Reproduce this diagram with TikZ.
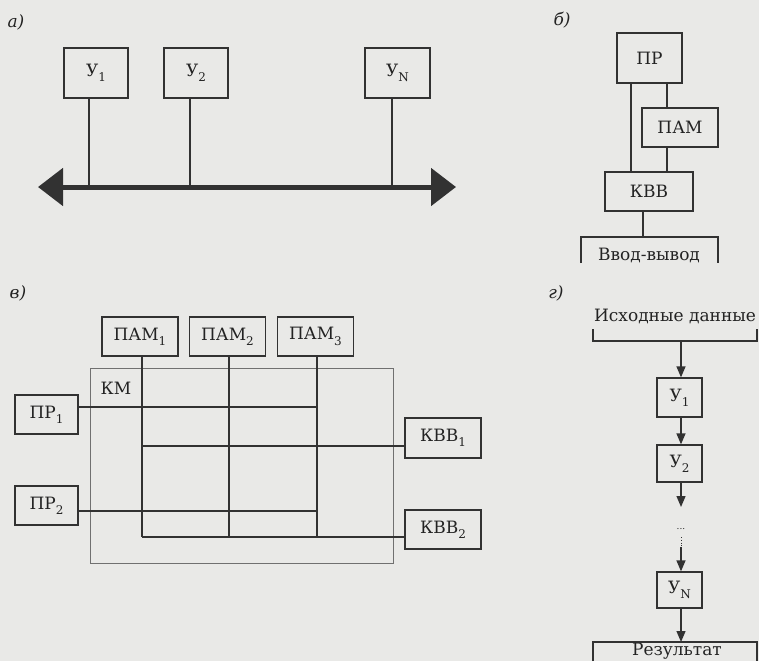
\documentclass[tikz,border=0pt]{standalone}
\usepackage{fontspec}
\setmainfont{DejaVu Serif}
\usetikzlibrary{arrows.meta,calc}
\definecolor{ink}{RGB}{50,50,50}
\definecolor{txt}{RGB}{35,35,35}
\definecolor{paper}{RGB}{233,233,231}
\newcommand\subidx[1]{\raisebox{-0.6ex}{\fontsize{12}{12}\selectfont #1}}
\begin{document}
\begin{tikzpicture}[x=1pt,y=-1pt,
  every node/.style={text=txt,font=\fontsize{17}{20}\selectfont},
  lab/.style={font=\fontsize{17}{20}\selectfont\itshape},
  blk/.style={draw=ink,line width=1.3pt,minimum width=64pt,minimum height=39pt,inner sep=0pt},
  conn/.style={draw=ink,line width=1.3pt},
  kmbox/.style={draw=ink!70,line width=0.9pt},
  bus/.style={draw=ink,line width=5pt,{Triangle[length=25pt,width=37pt]}-{Triangle[length=25pt,width=37pt]}},
  arr/.style={draw=ink,line width=1.3pt,-{Triangle[length=11pt,width=9pt]}}
]
\fill[paper] (0,0) rectangle (759,661);
\useasboundingbox (0,0) rectangle (759,661);

% ---------- a)
\node[lab] (la) at (16,22) {а)};
\node[blk,minimum height=50pt] (u1) at (96,73) {У\subidx{1}};
\node[blk,minimum height=50pt] (u2) at (196,73) {У\subidx{2}};
\node[blk,minimum width=65pt,minimum height=50pt] (un) at (397.5,73) {У\subidx{N}};
\coordinate (busL) at (38,187);
\coordinate (busR) at (456,187);
\draw[conn] ([xshift=-7pt]u1.south) -- ([xshift=-7pt]u1.south |- busL);
\draw[conn] ([xshift=-6pt]u2.south) -- ([xshift=-6pt]u2.south |- busL);
\draw[conn] ([xshift=-5.5pt]un.south) -- ([xshift=-5.5pt]un.south |- busL);
\draw[bus] (busL) -- (busR);

% ---------- b)
\node[lab] (lb) at (562,20) {б)};
\node[blk,minimum width=65pt,minimum height=50pt] (pr) at (649.5,58) {ПР};
\node[blk,minimum width=76pt] (pam) at (680,127.5) {ПАМ};
\node[blk,minimum width=88pt] (kvv) at (649,191.5) {КВВ};
\coordinate (bx1) at (631,0);
\coordinate (bx2) at (667,0);
\coordinate (iot) at (643,237);
\draw[conn] (pr.south -| bx1) -- (kvv.north -| bx1);
\draw[conn] (pr.south -| bx2) -- (pam.north -| bx2);
\draw[conn] (pam.south -| bx2) -- (kvv.north -| bx2);
\draw[conn] (kvv.south -| iot) -- (iot);
\node (io) at (649,255) {Ввод-вывод};
\draw[conn] (581,263) -- (581,237) -- (718,237) -- (718,263);

% ---------- c)
\node[lab] (lc) at (18,293) {в)};
\node[blk,minimum width=76pt] (pam1) at (140,336.5) {ПАМ\subidx{1}};
\node[blk,minimum width=76pt] (pam2) at (227.5,336.5) {ПАМ\subidx{2}};
\node[blk,minimum width=76pt] (pam3) at (315.5,336.5) {ПАМ\subidx{3}};
\draw[kmbox] (90,368) rectangle (393,563);
\node (km) at (116,388) {КМ};
\node[blk,minimum width=63pt] (pr1) at (46.5,414.5) {ПР\subidx{1}};
\node[blk,minimum width=63pt] (pr2) at (46.5,505.5) {ПР\subidx{2}};
\node[blk,minimum width=76pt,minimum height=40pt] (kvv1) at (443,438) {КВВ\subidx{1}};
\node[blk,minimum width=76pt] (kvv2) at (443,529.5) {КВВ\subidx{2}};
\coordinate (gb1) at (142,537);
\coordinate (gb2) at (229,537);
\coordinate (gb3) at (317,537);
\coordinate (h1) at (317,407);
\coordinate (h2) at (142,446);
\coordinate (h3) at (317,511);
\draw[conn] (pam1.south -| gb1) -- (gb1);
\draw[conn] (pam2.south -| gb2) -- (gb2);
\draw[conn] (pam3.south -| gb3) -- (gb3);
\draw[conn] (pr1.east |- h1) -- (h1);
\draw[conn] (h2) -- (kvv1.west |- h2);
\draw[conn] (pr2.east |- h3) -- (h3);
\draw[conn] (gb1) -- (kvv2.west |- gb1);

% ---------- d)
\node[lab] (ld) at (556,293) {г)};
\node (src) at (675,316) {Исходные данные};
\draw[conn] (593,329) -- (593,341) -- (757,341) -- (757,329);
\coordinate (s0) at (681,341);
\node[blk,minimum width=45pt] (g1) at (679.5,397.5) {У\subidx{1}};
\node[blk,minimum width=45pt,minimum height=37pt] (g2) at (679.5,463.5) {У\subidx{2}};
\node[blk,minimum width=45pt,minimum height=36pt] (gn) at (679.5,590) {У\subidx{N}};
\coordinate (d1) at (681,507);
\coordinate (d2) at (681,547);
\coordinate (r0) at (681,642);
\draw[arr] (s0) -- (g1.north -| s0);
\draw[arr] (g1.south -| s0) -- (g2.north -| s0);
\draw[arr] (g2.south -| s0) -- (d1);
\node[font=\fontsize{9}{9}\selectfont] (dots) at (681,529) {...};
\draw[ink,dotted,line width=0.8pt] (681,537) -- (d2);
\draw[arr] (d2) -- (gn.north -| s0);
\draw[arr] (gn.south -| s0) -- (r0);
\draw[conn] (593,661) -- (593,642) -- (757,642) -- (757,661);
\node (res) at (677,651) {Результат};
\end{tikzpicture}
\end{document}
